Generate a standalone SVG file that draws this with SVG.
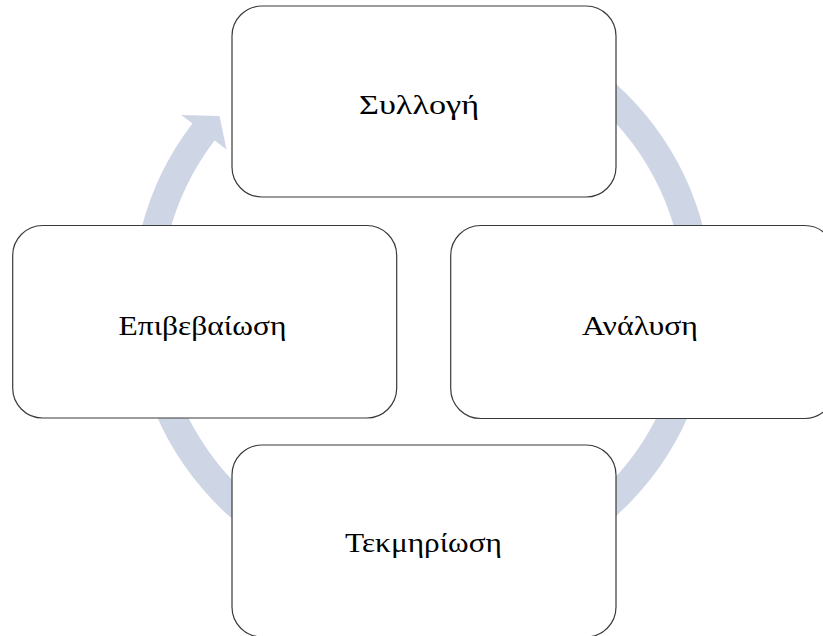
<svg xmlns="http://www.w3.org/2000/svg" width="823" height="636" viewBox="0 0 823 636">
  <style>
    .box { fill: #ffffff; stroke: #3a3a3a; stroke-width: 1.2; }
    .lbl { font-family: "Liberation Serif", "Times New Roman", serif; font-size: 28px; fill: #000000; text-anchor: middle; }
    .cyc { fill: #CED6E6; stroke: none; }
  </style>
  <rect width="823" height="636" fill="#ffffff"/>
  <g id="connectors">
    <path class="cyc" d="M567.5,48.9 A290,290 0 1 1 192.4,123.4 L181.3,114.9 L219.5,116 L226.5,149.6 L214.6,140.5 A262,262 0 1 0 553.5,73.1 Z"/>
  </g>
  <g id="node-syllogi">
    <rect class="box" x="232" y="6" width="384" height="191" rx="30" ry="30"/>
    <text class="lbl" x="419" y="113.5" textLength="120" lengthAdjust="spacingAndGlyphs">Συλλογή</text>
  </g>
  <g id="node-analysi">
    <rect class="box" x="450.7" y="225.5" width="384" height="193" rx="30" ry="30"/>
    <text class="lbl" x="640" y="335" textLength="116" lengthAdjust="spacingAndGlyphs">Ανάλυση</text>
  </g>
  <g id="node-tekmiriosi">
    <rect class="box" x="232" y="445" width="384" height="192" rx="30" ry="30"/>
    <text class="lbl" x="423.5" y="552" textLength="157" lengthAdjust="spacingAndGlyphs">Τεκμηρίωση</text>
  </g>
  <g id="node-epivevaiosi">
    <rect class="box" x="12.7" y="225.5" width="384" height="192.5" rx="30" ry="30"/>
    <text class="lbl" x="202.5" y="335" textLength="168" lengthAdjust="spacingAndGlyphs">Επιβεβαίωση</text>
  </g>
</svg>
